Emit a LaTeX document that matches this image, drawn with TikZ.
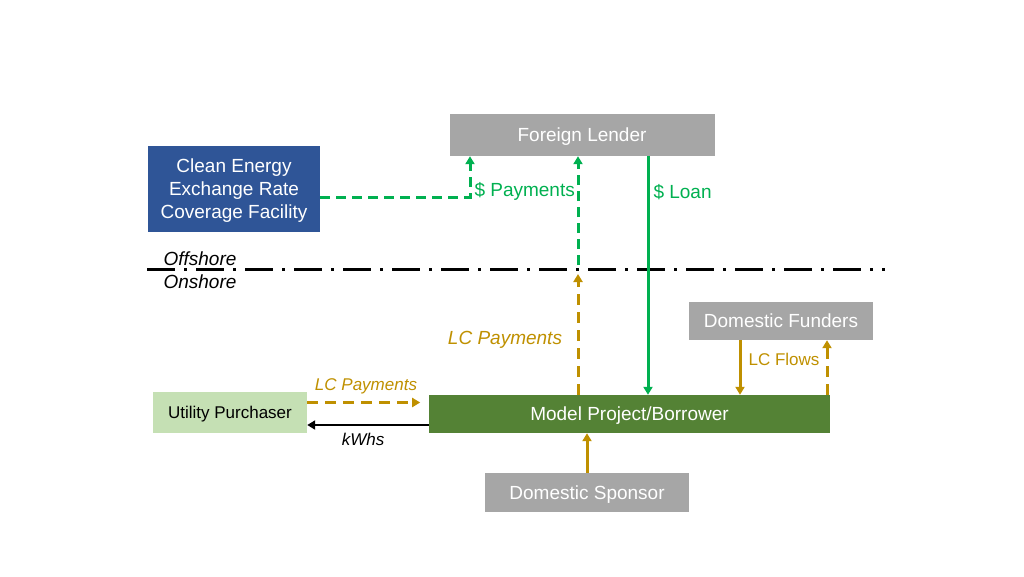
\documentclass[tikz,border=0pt]{standalone}
\usepackage{fontspec}
\setmainfont{Liberation Sans}
\usetikzlibrary{arrows.meta, positioning, calc}

\definecolor{boxgray}{HTML}{A6A6A6}
\definecolor{facblue}{HTML}{2F5597}
\definecolor{utilgreen}{HTML}{C5E0B4}
\definecolor{projgreen}{HTML}{548235}
\definecolor{usdgreen}{HTML}{00B050}
\definecolor{lcgold}{HTML}{BF9000}

\begin{document}
\begin{tikzpicture}[
    x=1pt, y=-1pt,
    party/.style={rectangle, fill=boxgray, text=white, inner sep=0pt, text height=13.7pt, text depth=0pt,
        font=\fontsize{19}{23}\selectfont},
    usd/.style={-{Triangle[width=9pt,length=8pt]}, usdgreen, line width=3pt},
    usddash/.style={usd, dash pattern=on 10pt off 6pt},
    lc/.style={-{Triangle[width=9pt,length=8pt]}, lcgold, line width=3pt},
    lcdash/.style={lc, dash pattern=on 11pt off 7pt},
    big/.style={font=\fontsize{19}{23}\selectfont},
    small/.style={font=\fontsize{17}{20}\selectfont}
]
\useasboundingbox (0,0) rectangle (1024,576);

% Offshore parties
\node[party, minimum width=265pt, minimum height=42pt] (fl) at (582,135) {Foreign Lender};
\node[party, fill=facblue, minimum width=172pt, minimum height=86pt, align=center, text height=, text depth=]
    (cef) at (234,189) {\rule{0pt}{16pt}Clean Energy\\Exchange Rate\\Coverage Facility};

% Offshore / onshore border
\coordinate (shoreL) at (147,269);
\coordinate (shoreR) at (885,269);
\draw[line width=3pt, dash pattern=on 28pt off 9pt on 3pt off 9pt] (shoreL) -- (shoreR);
\node[big, font=\fontsize{19}{23}\selectfont\itshape, anchor=west] at (160,259) {Offshore};
\node[big, font=\fontsize{19}{23}\selectfont\itshape, anchor=west] at (160,282) {Onshore};

% Onshore parties
\node[party, minimum width=184pt, minimum height=38pt] (df) at (781,321) {Domestic Funders};
\node[party, fill=utilgreen, text=black, minimum width=154pt, minimum height=41pt, text height=12.2pt,
    font=\fontsize{17}{20}\selectfont] (up) at (230,412.5) {Utility Purchaser};
\node[party, fill=projgreen, minimum width=401pt, minimum height=38pt] (mp) at (629.5,414) {Model Project/Borrower};
\node[party, minimum width=204pt, minimum height=39pt] (ds) at (587,492.5) {Domestic Sponsor};

% Dollar flows
\coordinate (payup) at (578,265);
\coordinate (lcup) at (578,274);
\draw[usddash] ([yshift=-8pt]cef.east) -| ([xshift=-112pt]fl.south);
\draw[usddash] (payup) -- (payup |- fl.south);
\draw[usd] ([xshift=66pt]fl.south) -- ([xshift=18.5pt]mp.north);
\node[big, text=usdgreen, anchor=west] at (471,191) {\$ Payments};
\node[big, text=usdgreen, anchor=west] at (650,192) {\$ Loan};

% Local currency flows
\draw[lcdash] (mp.north -| lcup) -- (lcup);
\node[big, font=\fontsize{19}{23}\selectfont\itshape, text=lcgold] at (505,340) {LC Payments};
\draw[lc] ([xshift=-41pt]df.south) -- ([xshift=-41pt]df.south |- mp.north);
\draw[lcdash] ([xshift=46pt]df.south |- mp.north) -- ([xshift=46pt]df.south);
\node[small, text=lcgold] at (784,359) {LC Flows};
\draw[lcdash] ([yshift=10pt]up.east) -- ++(113,0);
\node[small, font=\fontsize{17}{20}\selectfont\itshape, text=lcgold] at (366,386) {LC Payments};
\draw[-{Triangle[width=9pt,length=8pt]}, line width=2.5pt] ([yshift=-11pt]mp.west) -- ([yshift=-11pt]mp.west -| up.east);
\node[small, font=\fontsize{17}{20}\selectfont\itshape] at (363,439) {kWhs};
\draw[lc] (ds.north) -- (ds.north |- mp.south);

\end{tikzpicture}
\end{document}
